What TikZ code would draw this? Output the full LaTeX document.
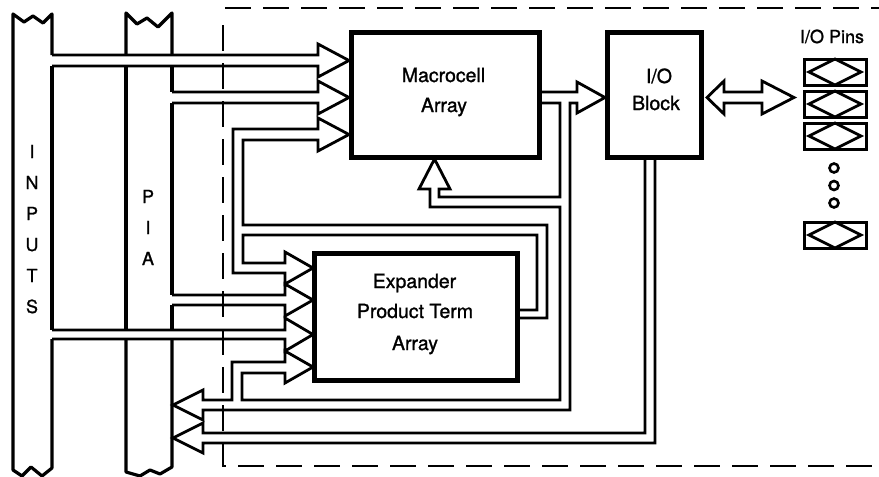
\documentclass[tikz,border=0pt]{standalone}
\usepackage{fontspec}
\setmainfont{TeX Gyre Heros}
\newfontfamily\heavyfont[FakeBold=1.2]{TeX Gyre Heros}
\begin{document}
\begin{tikzpicture}[x=1pt,y=-1pt,
  bus/.style={line width=2.8pt, line join=miter, miter limit=10},
  col/.style={line width=3.2pt, line join=round},
  dashline/.style={line width=2.8pt, dash pattern=on 26pt off 12pt},
  box/.style={draw, line width=5pt, inner sep=0pt, outer sep=0pt},
  lbl/.style={anchor=base, inner sep=0pt, font=\heavyfont\fontsize{19.5}{23}\selectfont},
  colletter/.style={anchor=base, inner sep=0pt, font=\heavyfont\fontsize{18}{20}\selectfont},
  pinbox/.style={draw, line width=3pt, minimum width=62pt, minimum height=26pt, inner sep=0pt, outer sep=0pt},
  pinline/.style={line width=2.8pt, line join=miter},
  dot/.style={circle, draw, line width=2.6pt, minimum size=9pt, inner sep=0pt}]
\useasboundingbox (0,0) rectangle (879,477);

% dashed boundary
\draw[dashline] (225,8) -- (879,8);
\draw[dashline] (223,25) -- (223,466) -- (879,466);

% INPUTS column
\draw[col] (52,55) -- (52,14) -- (43,23) -- (33,16) -- (24,22) -- (13,14) -- (13,470) -- (22,476) -- (31,467) -- (42,476) -- (52,468) -- (52,339);
\draw[col] (52,66) -- (52,330);
% PIA column
\draw[col] (126,55) -- (126,13) -- (137,24) -- (147,18) -- (158,27) -- (172,13) -- (172,55);
\draw[col] (126,66) -- (126,330);
\draw[col] (126,339) -- (126,472) -- (140,476) -- (150,470) -- (160,474) -- (172,467) -- (172,339);
\draw[col] (172,66) -- (172,92);
\draw[col] (172,103) -- (172,295);
\draw[col] (172,305) -- (172,330);

\foreach \ch/\yy [count=\i] in {I/158,N/189,P/220,U/251,T/282,S/313}
  \node[colletter] (in\i) at (32,\yy) {\ch};
\foreach \ch/\yy [count=\i] in {P/203,I/234,A/265}
  \node[colletter] (pia\i) at (148,\yy) {\ch};

% blocks
\node[box, minimum width=188pt, minimum height=125pt] (mac) at (445,94.5) {};
\node[box, minimum width=94pt, minimum height=125pt] (iob) at (654,94.5) {};
\node[box, minimum width=203pt, minimum height=127pt] (exp) at (416,316.5) {};

\node[lbl] (tmac1) at (443.5,82) {Macrocell};
\node[lbl] (tmac2) at (444,112) {Array};
\node[lbl] (tio1) at (659,83) {I/O};
\node[lbl] (tio2) at (656,110) {Block};
\node[lbl] (texp1) at (414.5,288) {Expander};
\node[lbl] (texp2) at (415,318) {Product Term};
\node[lbl] (texp3) at (415,350) {Array};
\node[lbl, font=\heavyfont\fontsize{18}{20}\selectfont] (tpins) at (832,43) {I/O Pins};

% buses into macrocell
\draw[bus] (52,55) -- (318,55) -- (318,44) -- (349,60.5) -- (318,77) -- (318,66) -- (52,66);
\draw[bus] (172,92) -- (318,92) -- (318,81) -- (349,97.5) -- (318,114) -- (318,103) -- (172,103);

% expander feedback bus
\draw[bus] (519,310) -- (537,310) -- (537,235) -- (243,235) -- (243,263) -- (285,263) -- (285,252) -- (313,268) -- (285,284) -- (285,273) -- (233,273) -- (233,129) -- (318,129) -- (318,118) -- (349,134.5) -- (318,151) -- (318,140) -- (243,140) -- (243,225) -- (547,225) -- (547,318) -- (519,318);

% PIA / INPUTS into expander
\draw[bus] (172,295) -- (285,295) -- (285,284) -- (313,300) -- (285,316) -- (285,305) -- (172,305);
\draw[bus] (52,330) -- (285,330) -- (285,318) -- (313,334.5) -- (285,351) -- (285,339) -- (52,339);

% macrocell output bus
\draw[bus] (539,92) -- (577,92) -- (577,82) -- (605,97.5) -- (577,113) -- (577,103) -- (570,103) -- (570,410) -- (203,410) -- (203,420) -- (173,405) -- (203,390) -- (203,400) -- (232,400) -- (232,362) -- (285,362) -- (285,351) -- (313,367) -- (285,383) -- (285,373) -- (242,373) -- (242,400) -- (560,400) -- (560,207) -- (430,207) -- (430,189) -- (419,189) -- (434.5,159) -- (450,189) -- (439,189) -- (439,197) -- (560,197) -- (560,103) -- (539,103);

% I/O feedback bus
\draw[bus] (645,159) -- (645,433) -- (203,433) -- (203,423) -- (173,438) -- (203,453) -- (203,443) -- (655,443) -- (655,159);

% bidirectional arrow
\draw[bus] (724,92) -- (762,92) -- (762,81) -- (794,97.5) -- (762,114) -- (762,103) -- (724,103) -- (724,114) -- (707,97.5) -- (724,81) -- cycle;

% pins
\foreach \yy [count=\i] in {72,104,136,235} {
  \node[pinbox] (pin\i) at (835,\yy) {};
  \draw[pinline] ([xshift=5pt]pin\i.west) -- (pin\i.north) -- ([xshift=-5pt]pin\i.east) -- (pin\i.south) -- cycle;
}
\node[dot] (dot1) at (834,168) {};
\node[dot] (dot2) at (834,185.5) {};
\node[dot] (dot3) at (834,203) {};
\end{tikzpicture}
\end{document}
